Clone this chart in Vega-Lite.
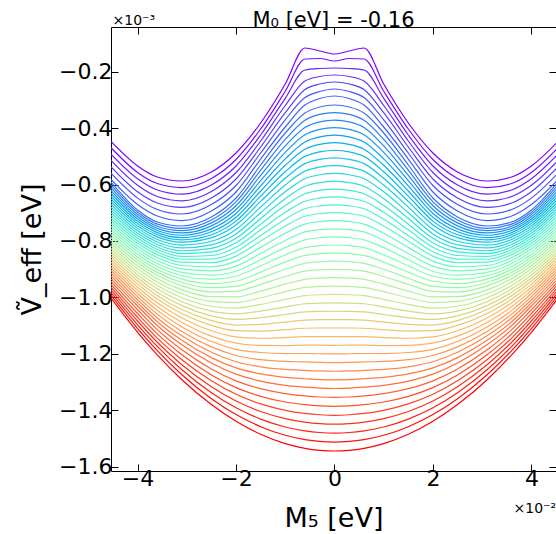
{
  "$schema": "https://vega.github.io/schema/vega-lite/v6.json",
  "width": 445,
  "height": 444,
  "autosize": {"type": "none"},
  "padding": {"left": 111, "top": 27, "right": 0, "bottom": 63},
  "background": "white",
  "config": {"view": {"stroke": "black", "strokeWidth": 1}, "font": "DejaVu Sans"},
  "title": {"text": "M₀ [eV] = -0.16", "fontSize": 21, "fontWeight": "normal", "font": "DejaVu Sans", "color": "black", "anchor": "middle", "baseline": "alphabetic", "dy": 39},
  "data": {"values": [
{"x":-4.54,"0":-0.4474,"1":-0.4697,"2":-0.4924,"3":-0.5148,"4":-0.5371,"5":-0.5598,"6":-0.5821,"7":-0.5910,"8":-0.6010,"9":-0.6109,"10":-0.6209,"11":-0.6309,"12":-0.6409,"13":-0.6508,"14":-0.6608,"15":-0.6705,"16":-0.6803,"17":-0.6900,"18":-0.6997,"19":-0.7095,"20":-0.7192,"21":-0.7289,"22":-0.7387,"23":-0.7484,"24":-0.7582,"25":-0.7680,"26":-0.7778,"27":-0.7875,"28":-0.7973,"29":-0.8071,"30":-0.8168,"31":-0.8266,"32":-0.8364,"33":-0.8462,"34":-0.8559,"35":-0.8657,"36":-0.8754,"37":-0.8852,"38":-0.8949,"39":-0.9046,"40":-0.9144,"41":-0.9241,"42":-0.9338,"43":-0.9436,"44":-0.9535,"45":-0.9633,"46":-0.9731,"47":-0.9830,"48":-0.9928,"49":-1.0026},
{"x":-4.0,"0":-0.5343,"1":-0.5570,"2":-0.5797,"3":-0.6027,"4":-0.6254,"5":-0.6481,"6":-0.6707,"7":-0.6903,"8":-0.6983,"9":-0.7064,"10":-0.7144,"11":-0.7225,"12":-0.7305,"13":-0.7385,"14":-0.7466,"15":-0.7554,"16":-0.7642,"17":-0.7730,"18":-0.7818,"19":-0.7907,"20":-0.7995,"21":-0.8083,"22":-0.8181,"23":-0.8280,"24":-0.8378,"25":-0.8476,"26":-0.8575,"27":-0.8673,"28":-0.8771,"29":-0.8879,"30":-0.8988,"31":-0.9096,"32":-0.9204,"33":-0.9313,"34":-0.9421,"35":-0.9529,"36":-0.9640,"37":-0.9751,"38":-0.9862,"39":-0.9973,"40":-1.0084,"41":-1.0195,"42":-1.0306,"43":-1.0439,"44":-1.0572,"45":-1.0705,"46":-1.0838,"47":-1.0972,"48":-1.1105,"49":-1.1238},
{"x":-3.6,"0":-0.5733,"1":-0.5963,"2":-0.6194,"3":-0.6424,"4":-0.6654,"5":-0.6885,"6":-0.7115,"7":-0.7328,"8":-0.7403,"9":-0.7479,"10":-0.7554,"11":-0.7630,"12":-0.7705,"13":-0.7780,"14":-0.7856,"15":-0.7946,"16":-0.8035,"17":-0.8125,"18":-0.8215,"19":-0.8305,"20":-0.8394,"21":-0.8484,"22":-0.8589,"23":-0.8694,"24":-0.8799,"25":-0.8904,"26":-0.9009,"27":-0.9113,"28":-0.9218,"29":-0.9338,"30":-0.9458,"31":-0.9578,"32":-0.9698,"33":-0.9818,"34":-0.9938,"35":-1.0058,"36":-1.0192,"37":-1.0326,"38":-1.0460,"39":-1.0594,"40":-1.0729,"41":-1.0863,"42":-1.0997,"43":-1.1145,"44":-1.1294,"45":-1.1442,"46":-1.1591,"47":-1.1739,"48":-1.1887,"49":-1.2036},
{"x":-3.1,"0":-0.5875,"1":-0.6108,"2":-0.6342,"3":-0.6577,"4":-0.6810,"5":-0.7044,"6":-0.7278,"7":-0.7470,"8":-0.7552,"9":-0.7634,"10":-0.7716,"11":-0.7798,"12":-0.7880,"13":-0.7962,"14":-0.8044,"15":-0.8145,"16":-0.8246,"17":-0.8347,"18":-0.8448,"19":-0.8549,"20":-0.8649,"21":-0.8750,"22":-0.8870,"23":-0.8991,"24":-0.9111,"25":-0.9232,"26":-0.9352,"27":-0.9472,"28":-0.9593,"29":-0.9733,"30":-0.9873,"31":-1.0013,"32":-1.0153,"33":-1.0293,"34":-1.0432,"35":-1.0572,"36":-1.0730,"37":-1.0889,"38":-1.1047,"39":-1.1206,"40":-1.1364,"41":-1.1522,"42":-1.1681,"43":-1.1858,"44":-1.2034,"45":-1.2211,"46":-1.2388,"47":-1.2565,"48":-1.2741,"49":-1.2918},
{"x":-2.5,"0":-0.5555,"1":-0.5786,"2":-0.6016,"3":-0.6247,"4":-0.6477,"5":-0.6708,"6":-0.6938,"7":-0.7151,"8":-0.7256,"9":-0.7360,"10":-0.7465,"11":-0.7570,"12":-0.7675,"13":-0.7779,"14":-0.7884,"15":-0.8010,"16":-0.8136,"17":-0.8262,"18":-0.8388,"19":-0.8515,"20":-0.8641,"21":-0.8767,"22":-0.8915,"23":-0.9064,"24":-0.9212,"25":-0.9361,"26":-0.9509,"27":-0.9657,"28":-0.9806,"29":-0.9976,"30":-1.0145,"31":-1.0315,"32":-1.0485,"33":-1.0655,"34":-1.0824,"35":-1.0994,"36":-1.1184,"37":-1.1375,"38":-1.1565,"39":-1.1756,"40":-1.1946,"41":-1.2136,"42":-1.2327,"43":-1.2538,"44":-1.2748,"45":-1.2959,"46":-1.3169,"47":-1.3380,"48":-1.3591,"49":-1.3801},
{"x":-2.0,"0":-0.4882,"1":-0.5112,"2":-0.5343,"3":-0.5573,"4":-0.5804,"5":-0.6034,"6":-0.6264,"7":-0.6477,"8":-0.6614,"9":-0.6750,"10":-0.6887,"11":-0.7024,"12":-0.7161,"13":-0.7297,"14":-0.7434,"15":-0.7592,"16":-0.7749,"17":-0.7907,"18":-0.8064,"19":-0.8222,"20":-0.8380,"21":-0.8537,"22":-0.8715,"23":-0.8894,"24":-0.9072,"25":-0.9250,"26":-0.9429,"27":-0.9607,"28":-0.9785,"29":-0.9984,"30":-1.0184,"31":-1.0383,"32":-1.0583,"33":-1.0782,"34":-1.0981,"35":-1.1181,"36":-1.1401,"37":-1.1621,"38":-1.1841,"39":-1.2061,"40":-1.2281,"41":-1.2500,"42":-1.2720,"43":-1.2959,"44":-1.3198,"45":-1.3437,"46":-1.3676,"47":-1.3915,"48":-1.4154,"49":-1.4393},
{"x":-1.5,"0":-0.3818,"1":-0.4031,"2":-0.4244,"3":-0.4456,"4":-0.4669,"5":-0.4882,"6":-0.5095,"7":-0.5307,"8":-0.5491,"9":-0.5676,"10":-0.5860,"11":-0.6045,"12":-0.6229,"13":-0.6413,"14":-0.6598,"15":-0.6800,"16":-0.7001,"17":-0.7203,"18":-0.7404,"19":-0.7606,"20":-0.7808,"21":-0.8009,"22":-0.8228,"23":-0.8446,"24":-0.8665,"25":-0.8884,"26":-0.9103,"27":-0.9321,"28":-0.9540,"29":-0.9777,"30":-1.0013,"31":-1.0250,"32":-1.0486,"33":-1.0723,"34":-1.0960,"35":-1.1196,"36":-1.1449,"37":-1.1702,"38":-1.1955,"39":-1.2208,"40":-1.2462,"41":-1.2715,"42":-1.2968,"43":-1.3237,"44":-1.3507,"45":-1.3776,"46":-1.4046,"47":-1.4315,"48":-1.4584,"49":-1.4854},
{"x":-1.0,"0":-0.2436,"1":-0.2691,"2":-0.2943,"3":-0.3198,"4":-0.3453,"5":-0.3705,"6":-0.3960,"7":-0.4173,"8":-0.4402,"9":-0.4631,"10":-0.4860,"11":-0.5089,"12":-0.5318,"13":-0.5547,"14":-0.5775,"15":-0.6017,"16":-0.6259,"17":-0.6501,"18":-0.6743,"19":-0.6986,"20":-0.7228,"21":-0.7470,"22":-0.7726,"23":-0.7981,"24":-0.8237,"25":-0.8493,"26":-0.8749,"27":-0.9004,"28":-0.9260,"29":-0.9529,"30":-0.9799,"31":-1.0068,"32":-1.0338,"33":-1.0607,"34":-1.0876,"35":-1.1146,"36":-1.1428,"37":-1.1709,"38":-1.1991,"39":-1.2272,"40":-1.2554,"41":-1.2836,"42":-1.3117,"43":-1.3412,"44":-1.3708,"45":-1.4003,"46":-1.4298,"47":-1.4594,"48":-1.4889,"49":-1.5184},
{"x":-0.6,"0":-0.1160,"1":-0.1550,"2":-0.1939,"3":-0.2329,"4":-0.2631,"5":-0.2914,"6":-0.3180,"7":-0.3464,"8":-0.3720,"9":-0.3977,"10":-0.4233,"11":-0.4490,"12":-0.4746,"13":-0.5002,"14":-0.5258,"15":-0.5525,"16":-0.5792,"17":-0.6059,"18":-0.6326,"19":-0.6591,"20":-0.6858,"21":-0.7125,"22":-0.7403,"23":-0.7680,"24":-0.7959,"25":-0.8236,"26":-0.8514,"27":-0.8792,"28":-0.9069,"29":-0.9359,"30":-0.9647,"31":-0.9937,"32":-1.0226,"33":-1.0516,"34":-1.0804,"35":-1.1094,"36":-1.1392,"37":-1.1690,"38":-1.1989,"39":-1.2288,"40":-1.2587,"41":-1.2884,"42":-1.3183,"43":-1.3492,"44":-1.3802,"45":-1.4112,"46":-1.4422,"47":-1.4731,"48":-1.5040,"49":-1.5350},
{"x":-0.3,"0":-0.1266,"1":-0.1532,"2":-0.1886,"3":-0.2170,"4":-0.2436,"5":-0.2702,"6":-0.2950,"7":-0.3251,"8":-0.3515,"9":-0.3781,"10":-0.4045,"11":-0.4310,"12":-0.4575,"13":-0.4839,"14":-0.5105,"15":-0.5380,"16":-0.5654,"17":-0.5930,"18":-0.6204,"19":-0.6480,"20":-0.6755,"21":-0.7030,"22":-0.7314,"23":-0.7599,"24":-0.7883,"25":-0.8168,"26":-0.8452,"27":-0.8737,"28":-0.9021,"29":-0.9316,"30":-0.9612,"31":-0.9906,"32":-1.0201,"33":-1.0496,"34":-1.0791,"35":-1.1086,"36":-1.1390,"37":-1.1695,"38":-1.1999,"39":-1.2304,"40":-1.2609,"41":-1.2913,"42":-1.3218,"43":-1.3531,"44":-1.3846,"45":-1.4161,"46":-1.4476,"47":-1.4791,"48":-1.5106,"49":-1.5421},
{"x":0,"0":-0.1372,"1":-0.1620,"2":-0.1869,"3":-0.2117,"4":-0.2365,"5":-0.2613,"6":-0.2861,"7":-0.3180,"8":-0.3447,"9":-0.3715,"10":-0.3982,"11":-0.4250,"12":-0.4517,"13":-0.4784,"14":-0.5052,"15":-0.5330,"16":-0.5607,"17":-0.5885,"18":-0.6162,"19":-0.6440,"20":-0.6718,"21":-0.6995,"22":-0.7282,"23":-0.7569,"24":-0.7856,"25":-0.8143,"26":-0.8431,"27":-0.8718,"28":-0.9005,"29":-0.9302,"30":-0.9600,"31":-0.9897,"32":-1.0194,"33":-1.0492,"34":-1.0789,"35":-1.1086,"36":-1.1392,"37":-1.1699,"38":-1.2005,"39":-1.2311,"40":-1.2618,"41":-1.2924,"42":-1.3230,"43":-1.3547,"44":-1.3863,"45":-1.4180,"46":-1.4496,"47":-1.4813,"48":-1.5130,"49":-1.5446},
{"x":0.3,"0":-0.1266,"1":-0.1532,"2":-0.1886,"3":-0.2170,"4":-0.2436,"5":-0.2702,"6":-0.2950,"7":-0.3251,"8":-0.3515,"9":-0.3781,"10":-0.4045,"11":-0.4310,"12":-0.4575,"13":-0.4839,"14":-0.5105,"15":-0.5380,"16":-0.5654,"17":-0.5930,"18":-0.6204,"19":-0.6480,"20":-0.6755,"21":-0.7030,"22":-0.7314,"23":-0.7599,"24":-0.7883,"25":-0.8168,"26":-0.8452,"27":-0.8737,"28":-0.9021,"29":-0.9316,"30":-0.9612,"31":-0.9906,"32":-1.0201,"33":-1.0496,"34":-1.0791,"35":-1.1086,"36":-1.1390,"37":-1.1695,"38":-1.1999,"39":-1.2304,"40":-1.2609,"41":-1.2913,"42":-1.3218,"43":-1.3531,"44":-1.3846,"45":-1.4161,"46":-1.4476,"47":-1.4791,"48":-1.5106,"49":-1.5421},
{"x":0.6,"0":-0.1160,"1":-0.1550,"2":-0.1939,"3":-0.2329,"4":-0.2631,"5":-0.2914,"6":-0.3180,"7":-0.3464,"8":-0.3720,"9":-0.3977,"10":-0.4233,"11":-0.4490,"12":-0.4746,"13":-0.5002,"14":-0.5258,"15":-0.5525,"16":-0.5792,"17":-0.6059,"18":-0.6326,"19":-0.6591,"20":-0.6858,"21":-0.7125,"22":-0.7403,"23":-0.7680,"24":-0.7959,"25":-0.8236,"26":-0.8514,"27":-0.8792,"28":-0.9069,"29":-0.9359,"30":-0.9647,"31":-0.9937,"32":-1.0226,"33":-1.0516,"34":-1.0804,"35":-1.1094,"36":-1.1392,"37":-1.1690,"38":-1.1989,"39":-1.2288,"40":-1.2587,"41":-1.2884,"42":-1.3183,"43":-1.3492,"44":-1.3802,"45":-1.4112,"46":-1.4422,"47":-1.4731,"48":-1.5040,"49":-1.5350},
{"x":1.0,"0":-0.2436,"1":-0.2691,"2":-0.2943,"3":-0.3198,"4":-0.3453,"5":-0.3705,"6":-0.3960,"7":-0.4173,"8":-0.4402,"9":-0.4631,"10":-0.4860,"11":-0.5089,"12":-0.5318,"13":-0.5547,"14":-0.5775,"15":-0.6017,"16":-0.6259,"17":-0.6501,"18":-0.6743,"19":-0.6986,"20":-0.7228,"21":-0.7470,"22":-0.7726,"23":-0.7981,"24":-0.8237,"25":-0.8493,"26":-0.8749,"27":-0.9004,"28":-0.9260,"29":-0.9529,"30":-0.9799,"31":-1.0068,"32":-1.0338,"33":-1.0607,"34":-1.0876,"35":-1.1146,"36":-1.1428,"37":-1.1709,"38":-1.1991,"39":-1.2272,"40":-1.2554,"41":-1.2836,"42":-1.3117,"43":-1.3412,"44":-1.3708,"45":-1.4003,"46":-1.4298,"47":-1.4594,"48":-1.4889,"49":-1.5184},
{"x":1.5,"0":-0.3818,"1":-0.4031,"2":-0.4244,"3":-0.4456,"4":-0.4669,"5":-0.4882,"6":-0.5095,"7":-0.5307,"8":-0.5491,"9":-0.5676,"10":-0.5860,"11":-0.6045,"12":-0.6229,"13":-0.6413,"14":-0.6598,"15":-0.6800,"16":-0.7001,"17":-0.7203,"18":-0.7404,"19":-0.7606,"20":-0.7808,"21":-0.8009,"22":-0.8228,"23":-0.8446,"24":-0.8665,"25":-0.8884,"26":-0.9103,"27":-0.9321,"28":-0.9540,"29":-0.9777,"30":-1.0013,"31":-1.0250,"32":-1.0486,"33":-1.0723,"34":-1.0960,"35":-1.1196,"36":-1.1449,"37":-1.1702,"38":-1.1955,"39":-1.2208,"40":-1.2462,"41":-1.2715,"42":-1.2968,"43":-1.3237,"44":-1.3507,"45":-1.3776,"46":-1.4046,"47":-1.4315,"48":-1.4584,"49":-1.4854},
{"x":2.0,"0":-0.4882,"1":-0.5112,"2":-0.5343,"3":-0.5573,"4":-0.5804,"5":-0.6034,"6":-0.6264,"7":-0.6477,"8":-0.6614,"9":-0.6750,"10":-0.6887,"11":-0.7024,"12":-0.7161,"13":-0.7297,"14":-0.7434,"15":-0.7592,"16":-0.7749,"17":-0.7907,"18":-0.8064,"19":-0.8222,"20":-0.8380,"21":-0.8537,"22":-0.8715,"23":-0.8894,"24":-0.9072,"25":-0.9250,"26":-0.9429,"27":-0.9607,"28":-0.9785,"29":-0.9984,"30":-1.0184,"31":-1.0383,"32":-1.0583,"33":-1.0782,"34":-1.0981,"35":-1.1181,"36":-1.1401,"37":-1.1621,"38":-1.1841,"39":-1.2061,"40":-1.2281,"41":-1.2500,"42":-1.2720,"43":-1.2959,"44":-1.3198,"45":-1.3437,"46":-1.3676,"47":-1.3915,"48":-1.4154,"49":-1.4393},
{"x":2.5,"0":-0.5555,"1":-0.5786,"2":-0.6016,"3":-0.6247,"4":-0.6477,"5":-0.6708,"6":-0.6938,"7":-0.7151,"8":-0.7256,"9":-0.7360,"10":-0.7465,"11":-0.7570,"12":-0.7675,"13":-0.7779,"14":-0.7884,"15":-0.8010,"16":-0.8136,"17":-0.8262,"18":-0.8388,"19":-0.8515,"20":-0.8641,"21":-0.8767,"22":-0.8915,"23":-0.9064,"24":-0.9212,"25":-0.9361,"26":-0.9509,"27":-0.9657,"28":-0.9806,"29":-0.9976,"30":-1.0145,"31":-1.0315,"32":-1.0485,"33":-1.0655,"34":-1.0824,"35":-1.0994,"36":-1.1184,"37":-1.1375,"38":-1.1565,"39":-1.1756,"40":-1.1946,"41":-1.2136,"42":-1.2327,"43":-1.2538,"44":-1.2748,"45":-1.2959,"46":-1.3169,"47":-1.3380,"48":-1.3591,"49":-1.3801},
{"x":3.1,"0":-0.5875,"1":-0.6108,"2":-0.6342,"3":-0.6577,"4":-0.6810,"5":-0.7044,"6":-0.7278,"7":-0.7470,"8":-0.7552,"9":-0.7634,"10":-0.7716,"11":-0.7798,"12":-0.7880,"13":-0.7962,"14":-0.8044,"15":-0.8145,"16":-0.8246,"17":-0.8347,"18":-0.8448,"19":-0.8549,"20":-0.8649,"21":-0.8750,"22":-0.8870,"23":-0.8991,"24":-0.9111,"25":-0.9232,"26":-0.9352,"27":-0.9472,"28":-0.9593,"29":-0.9733,"30":-0.9873,"31":-1.0013,"32":-1.0153,"33":-1.0293,"34":-1.0432,"35":-1.0572,"36":-1.0730,"37":-1.0889,"38":-1.1047,"39":-1.1206,"40":-1.1364,"41":-1.1522,"42":-1.1681,"43":-1.1858,"44":-1.2034,"45":-1.2211,"46":-1.2388,"47":-1.2565,"48":-1.2741,"49":-1.2918},
{"x":3.6,"0":-0.5733,"1":-0.5963,"2":-0.6194,"3":-0.6424,"4":-0.6654,"5":-0.6885,"6":-0.7115,"7":-0.7328,"8":-0.7403,"9":-0.7479,"10":-0.7554,"11":-0.7630,"12":-0.7705,"13":-0.7780,"14":-0.7856,"15":-0.7946,"16":-0.8035,"17":-0.8125,"18":-0.8215,"19":-0.8305,"20":-0.8394,"21":-0.8484,"22":-0.8589,"23":-0.8694,"24":-0.8799,"25":-0.8904,"26":-0.9009,"27":-0.9113,"28":-0.9218,"29":-0.9338,"30":-0.9458,"31":-0.9578,"32":-0.9698,"33":-0.9818,"34":-0.9938,"35":-1.0058,"36":-1.0192,"37":-1.0326,"38":-1.0460,"39":-1.0594,"40":-1.0729,"41":-1.0863,"42":-1.0997,"43":-1.1145,"44":-1.1294,"45":-1.1442,"46":-1.1591,"47":-1.1739,"48":-1.1887,"49":-1.2036},
{"x":4.0,"0":-0.5343,"1":-0.5570,"2":-0.5797,"3":-0.6027,"4":-0.6254,"5":-0.6481,"6":-0.6707,"7":-0.6903,"8":-0.6983,"9":-0.7064,"10":-0.7144,"11":-0.7225,"12":-0.7305,"13":-0.7385,"14":-0.7466,"15":-0.7554,"16":-0.7642,"17":-0.7730,"18":-0.7818,"19":-0.7907,"20":-0.7995,"21":-0.8083,"22":-0.8181,"23":-0.8280,"24":-0.8378,"25":-0.8476,"26":-0.8575,"27":-0.8673,"28":-0.8771,"29":-0.8879,"30":-0.8988,"31":-0.9096,"32":-0.9204,"33":-0.9313,"34":-0.9421,"35":-0.9529,"36":-0.9640,"37":-0.9751,"38":-0.9862,"39":-0.9973,"40":-1.0084,"41":-1.0195,"42":-1.0306,"43":-1.0439,"44":-1.0572,"45":-1.0705,"46":-1.0838,"47":-1.0972,"48":-1.1105,"49":-1.1238},
{"x":4.54,"0":-0.4474,"1":-0.4697,"2":-0.4924,"3":-0.5148,"4":-0.5371,"5":-0.5598,"6":-0.5821,"7":-0.5910,"8":-0.6010,"9":-0.6109,"10":-0.6209,"11":-0.6309,"12":-0.6409,"13":-0.6508,"14":-0.6608,"15":-0.6705,"16":-0.6803,"17":-0.6900,"18":-0.6997,"19":-0.7095,"20":-0.7192,"21":-0.7289,"22":-0.7387,"23":-0.7484,"24":-0.7582,"25":-0.7680,"26":-0.7778,"27":-0.7875,"28":-0.7973,"29":-0.8071,"30":-0.8168,"31":-0.8266,"32":-0.8364,"33":-0.8462,"34":-0.8559,"35":-0.8657,"36":-0.8754,"37":-0.8852,"38":-0.8949,"39":-0.9046,"40":-0.9144,"41":-0.9241,"42":-0.9338,"43":-0.9436,"44":-0.9535,"45":-0.9633,"46":-0.9731,"47":-0.9830,"48":-0.9928,"49":-1.0026}
  ]},
  "transform": [{"fold": ["0","1","2","3","4","5","6","7","8","9","10","11","12","13","14","15","16","17","18","19","20","21","22","23","24","25","26","27","28","29","30","31","32","33","34","35","36","37","38","39","40","41","42","43","44","45","46","47","48","49"], "as": ["k", "v"]}],
  "layer": [
    {
      "mark": {"type": "line", "strokeWidth": 1.2, "interpolate": "monotone", "clip": true},
      "encoding": {
        "x": {"field": "x", "type": "quantitative",
          "scale": {"domain": [-4.54, 4.5], "nice": false, "zero": false},
          "axis": {"orient": "bottom", "values": [-4, -2, 0, 2, 4], "format": "d", "grid": false, "domain": false,
            "tickSize": -7, "tickColor": "black", "labelFontSize": 22, "labelColor": "black", "labelPadding": 4,
            "title": "M₅ [eV]", "titleFontSize": 27, "titleFontWeight": "normal", "titleColor": "black", "titleY": 55, "titleBaseline": "alphabetic"}},
        "y": {"field": "v", "type": "quantitative",
          "scale": {"domain": [-1.6155, -0.0415], "nice": false, "zero": false},
          "axis": {"orient": "left", "values": [-0.2, -0.4, -0.6, -0.8, -1.0, -1.2, -1.4, -1.6], "format": ".1f", "grid": false, "domain": false,
            "tickSize": -7, "tickColor": "black", "labelFontSize": 22, "labelColor": "black", "labelPadding": 6,
            "title": "Ṽ_eff [eV]", "titleFontSize": 27, "titleFontWeight": "normal", "titleColor": "black", "titleX": -71, "titleY": 222, "titleBaseline": "alphabetic", "titleAngle": -90}},
        "color": {"field": "k", "type": "quantitative", "legend": null,
          "scale": {"domain": [0, 6.125, 12.25, 18.375, 24.5, 30.625, 36.75, 42.875, 49],
            "range": ["#8000ff", "#4062fa", "#00b4ec", "#40ecd4", "#80ffb4", "#bfec8e", "#ffb462", "#ff6232", "#ff0000"], "interpolate": "rgb"}},
        "detail": {"field": "k", "type": "nominal"}
      }
    },
    {
      "mark": {"type": "point", "opacity": 0},
      "encoding": {
        "x": {"field": "x", "type": "quantitative",
          "axis": {"orient": "top", "values": [-4, -2, 0, 2, 4], "labels": false, "grid": false, "domain": false,
            "tickSize": -7, "tickColor": "black",
            "title": "×10⁻³", "titleFontSize": 14, "titleFontWeight": "normal", "titleColor": "black", "titleX": 1, "titleY": -3, "titleAlign": "left", "titleAnchor": "start", "titleBaseline": "alphabetic"}},
        "y": {"field": "v", "type": "quantitative",
          "axis": {"orient": "right", "values": [-0.2, -0.4, -0.6, -0.8, -1.0, -1.2, -1.4, -1.6], "labels": false, "grid": false, "domain": false,
            "tickSize": -7, "tickColor": "black",
            "title": "×10⁻²", "titleFontSize": 14, "titleFontWeight": "normal", "titleColor": "black", "titleAngle": 0, "titleX": -43, "titleY": 485, "titleAlign": "left", "titleBaseline": "alphabetic"}}
      }
    }
  ],
  "resolve": {"axis": {"x": "independent", "y": "independent"}}
}
